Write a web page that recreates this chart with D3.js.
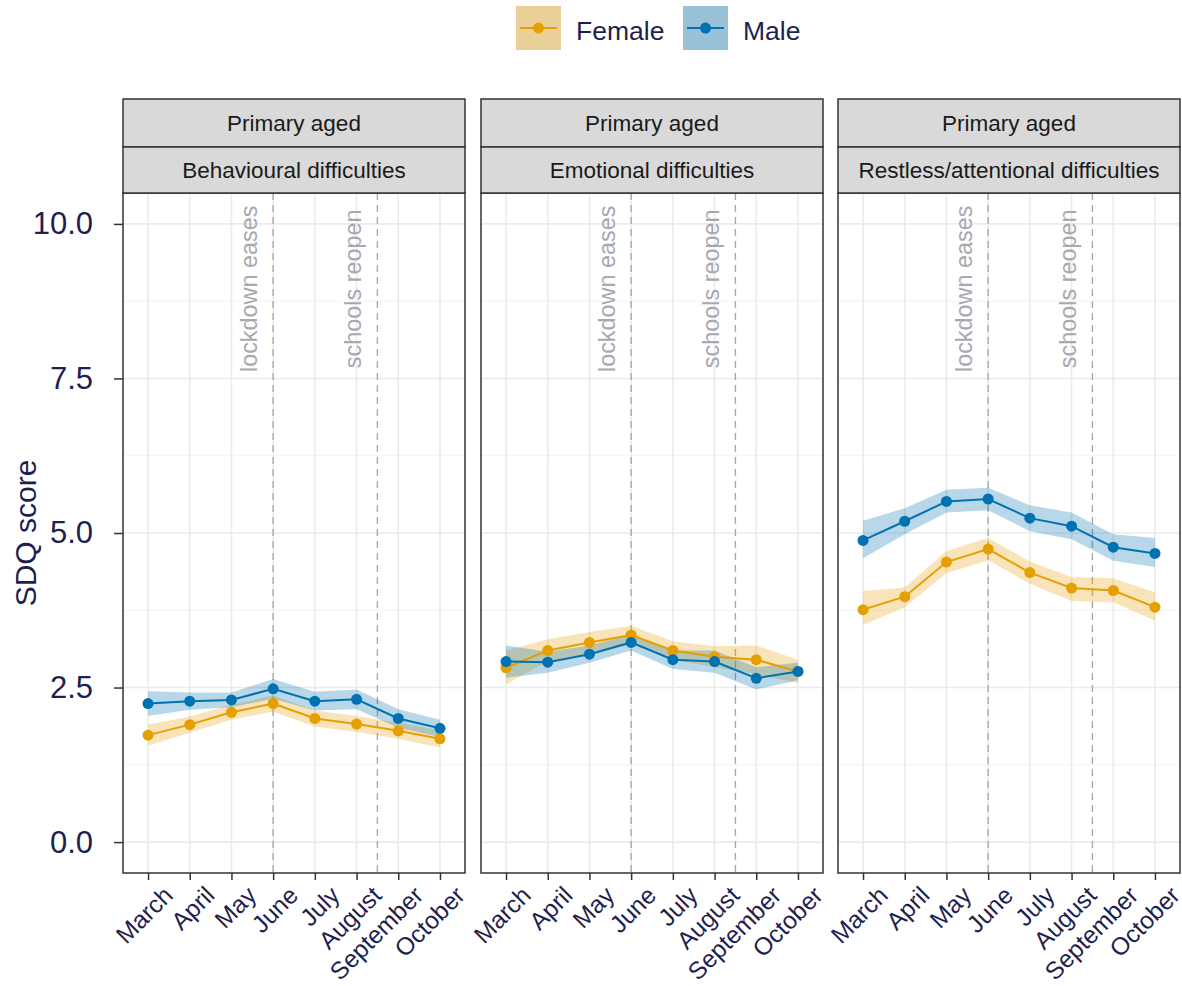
<!DOCTYPE html>
<html>
<head>
<meta charset="utf-8">
<script src="https://cdn.jsdelivr.net/npm/d3@7"></script>
<style>
  html, body { margin: 0; padding: 0; background: #ffffff; }
  svg { display: block; font-family: "Liberation Sans", Arial, sans-serif; }
</style>
</head>
<body>
<svg id="chart" width="1182" height="986"></svg>
<script>
// Months on the x axis
const months = ["March", "April", "May", "June", "July", "August", "September", "October"];

// Facet labels
const ageGroup = "Primary aged";
const domains = ["Behavioural difficulties", "Emotional difficulties", "Restless/attentional difficulties"];

// Series
const seriesNames = ["Female", "Male"];
const seriesColors = ["#E69F00", "#0072B2"];

// Behavioural difficulties
const behavFemale   = [1.73, 1.90, 2.10, 2.24, 2.00, 1.91, 1.80, 1.67];
const behavFemaleLo = [1.56, 1.77, 1.98, 2.11, 1.87, 1.78, 1.67, 1.53];
const behavFemaleHi = [1.90, 2.03, 2.22, 2.37, 2.13, 2.04, 1.93, 1.81];
const behavMale     = [2.24, 2.28, 2.30, 2.48, 2.28, 2.31, 2.00, 1.84];
const behavMaleLo   = [2.04, 2.14, 2.18, 2.32, 2.13, 2.15, 1.85, 1.70];
const behavMaleHi   = [2.44, 2.42, 2.42, 2.64, 2.43, 2.47, 2.15, 1.98];

// Emotional difficulties
const emoFemale   = [2.82, 3.10, 3.23, 3.35, 3.10, 3.00, 2.95, 2.76];
const emoFemaleLo = [2.55, 2.92, 3.06, 3.20, 2.95, 2.83, 2.72, 2.57];
const emoFemaleHi = [3.10, 3.28, 3.40, 3.50, 3.25, 3.17, 3.18, 2.95];
const emoMale     = [2.92, 2.91, 3.04, 3.23, 2.95, 2.92, 2.65, 2.76];
const emoMaleLo   = [2.66, 2.74, 2.90, 3.10, 2.80, 2.74, 2.47, 2.62];
const emoMaleHi   = [3.18, 3.08, 3.18, 3.36, 3.10, 3.10, 2.83, 2.90];

// Restless/attentional difficulties
const restFemale   = [3.76, 3.97, 4.53, 4.74, 4.36, 4.11, 4.07, 3.80];
const restFemaleLo = [3.51, 3.80, 4.35, 4.56, 4.18, 3.90, 3.88, 3.58];
const restFemaleHi = [4.06, 4.12, 4.71, 4.92, 4.54, 4.29, 4.27, 4.04];
const restMale     = [4.88, 5.19, 5.51, 5.55, 5.24, 5.11, 4.77, 4.67];
const restMaleLo   = [4.59, 4.98, 5.33, 5.37, 5.03, 4.90, 4.55, 4.45];
const restMaleHi   = [5.20, 5.40, 5.70, 5.73, 5.45, 5.33, 4.98, 4.92];

// Y axis ticks
const yMajorTicks = [0, 2.5, 5, 7.5, 10];
const yMinorTicks = [1.25, 3.75, 6.25, 8.75];

// Event markers: position on the month axis (1-based) and label
const eventPos = [4, 6.5];
const eventLabels = ["lockdown eases", "schools reopen"];
const eventLabelPos = [3.42, 5.92];
const eventLabelY = 8.95;

const panelData = [
  [[behavFemale, behavFemaleLo, behavFemaleHi], [behavMale, behavMaleLo, behavMaleHi]],
  [[emoFemale, emoFemaleLo, emoFemaleHi], [emoMale, emoMaleLo, emoMaleHi]],
  [[restFemale, restFemaleLo, restFemaleHi], [restMale, restMaleLo, restMaleHi]]
];

// ---- layout ----
const svg = d3.select("#chart");
const textColor = "#1f1f4f";
const panelLefts = [123, 481, 838];
const panelW = 342;
const stripTop = 99, stripMid = 147, plotTop = 193, plotBottom = 873;

const y = d3.scaleLinear().domain([-0.5, 10.5]).range([plotBottom, plotTop]);

panelLefts.forEach((left, pi) => {
  const x = d3.scalePoint().domain(months).range([left, left + panelW]).padding(0.6);
  const step = x.step();
  const xPos = p => x(months[0]) + (p - 1) * step;   // fractional month position
  const g = svg.append("g");

  // grid
  g.selectAll(".ymin").data(yMinorTicks).join("line")
    .attr("x1", left).attr("x2", left + panelW)
    .attr("y1", d => y(d)).attr("y2", d => y(d))
    .attr("stroke", "#f2f2f2").attr("stroke-width", 0.9);
  g.selectAll(".ymaj").data(yMajorTicks).join("line")
    .attr("x1", left).attr("x2", left + panelW)
    .attr("y1", d => y(d)).attr("y2", d => y(d))
    .attr("stroke", "#ebebeb").attr("stroke-width", 1.6);
  g.selectAll(".xmaj").data(months).join("line")
    .attr("x1", d => x(d)).attr("x2", d => x(d))
    .attr("y1", plotTop).attr("y2", plotBottom)
    .attr("stroke", "#ebebeb").attr("stroke-width", 1.6);

  // event markers
  g.selectAll(".evline").data(eventPos).join("line")
    .attr("x1", d => xPos(d)).attr("x2", d => xPos(d))
    .attr("y1", plotTop).attr("y2", plotBottom)
    .attr("stroke", "#a9a9a9").attr("stroke-width", 1.4)
    .attr("stroke-dasharray", "7,5");
  g.selectAll(".evlabel").data(eventLabels).join("text")
    .attr("transform", (d, i) => `translate(${xPos(eventLabelPos[i])},${y(eventLabelY)}) rotate(-90)`)
    .attr("text-anchor", "middle").attr("dy", "0.35em")
    .attr("font-size", 23.4).attr("fill", "#a8a8b0")
    .text(d => d);

  // ribbons
  const area = d3.area()
    .x((d, i) => x(months[i]))
    .y0(d => y(d[0])).y1(d => y(d[1]));
  panelData[pi].forEach((s, si) => {
    const pts = s[1].map((lo, i) => [lo, s[2][i]]);
    g.append("path").datum(pts)
      .attr("d", area)
      .attr("fill", seriesColors[si]).attr("fill-opacity", 0.28);
  });

  // lines and points
  const line = d3.line().x((d, i) => x(months[i])).y(d => y(d));
  panelData[pi].forEach((s, si) => {
    g.append("path").datum(s[0])
      .attr("d", line).attr("fill", "none")
      .attr("stroke", seriesColors[si]).attr("stroke-width", 2);
    g.selectAll(null).data(s[0]).join("circle")
      .attr("cx", (d, i) => x(months[i])).attr("cy", d => y(d))
      .attr("r", 5.5).attr("fill", seriesColors[si]);
  });

  // panel border
  g.append("rect").attr("x", left).attr("y", plotTop)
    .attr("width", panelW).attr("height", plotBottom - plotTop)
    .attr("fill", "none").attr("stroke", "#333333").attr("stroke-width", 1.5);

  // strips
  [[stripTop, stripMid, ageGroup], [stripMid, plotTop, domains[pi]]].forEach(([t, b, label]) => {
    g.append("rect").attr("x", left).attr("y", t)
      .attr("width", panelW).attr("height", b - t)
      .attr("fill", "#d9d9d9").attr("stroke", "#333333").attr("stroke-width", 1.5);
    g.append("text").attr("x", left + panelW / 2).attr("y", (t + b) / 2)
      .attr("dy", "0.35em").attr("text-anchor", "middle")
      .attr("font-size", 22.5).attr("fill", "#1a1a1a").text(label);
  });

  // x axis
  const xAxis = svg.append("g").attr("transform", `translate(0,${plotBottom})`)
    .call(d3.axisBottom(x).tickSize(7).tickPadding(4));
  xAxis.select(".domain").remove();
  xAxis.selectAll(".tick line").attr("stroke", "#333333").attr("stroke-width", 1.5);
  xAxis.selectAll(".tick text")
    .attr("font-size", 24.5).attr("fill", textColor)
    .attr("text-anchor", "end").attr("dy", "0.7em")
    .attr("transform", "translate(6,4) rotate(-45)");

  // y axis on the first panel only
  if (pi === 0) {
    const yAxis = svg.append("g").attr("transform", `translate(${left},0)`)
      .call(d3.axisLeft(y).tickValues(yMajorTicks).tickFormat(d3.format(".1f")).tickSize(9).tickPadding(21));
    yAxis.select(".domain").remove();
    yAxis.selectAll(".tick line").attr("stroke", "#333333").attr("stroke-width", 1.5);
    yAxis.selectAll(".tick text").attr("font-size", 31).attr("fill", textColor);
  }
});

// y axis title
svg.append("text")
  .attr("transform", `translate(25,${(plotTop + plotBottom) / 2}) rotate(-90)`)
  .attr("text-anchor", "middle").attr("dy", "0.35em")
  .attr("font-size", 30).attr("fill", textColor)
  .text("SDQ score");

// legend
const legendX = [516, 683];
const legend = svg.append("g");
seriesNames.forEach((name, i) => {
  const lx = legendX[i];
  const k = legend.append("g").attr("transform", `translate(${lx},6)`);
  k.append("rect").attr("width", 45).attr("height", 44).attr("fill", "#ebebeb");
  k.append("rect").attr("width", 45).attr("height", 44)
    .attr("fill", seriesColors[i]).attr("fill-opacity", 0.35);
  k.append("line").attr("x1", 4).attr("x2", 41).attr("y1", 22).attr("y2", 22)
    .attr("stroke", seriesColors[i]).attr("stroke-width", 2);
  k.append("circle").attr("cx", 22.5).attr("cy", 22).attr("r", 5.5).attr("fill", seriesColors[i]);
  legend.append("text").attr("x", lx + 60).attr("y", 31).attr("dy", "0.35em")
    .attr("font-size", 26.5).attr("fill", textColor).text(name);
});
</script>
</body>
</html>
